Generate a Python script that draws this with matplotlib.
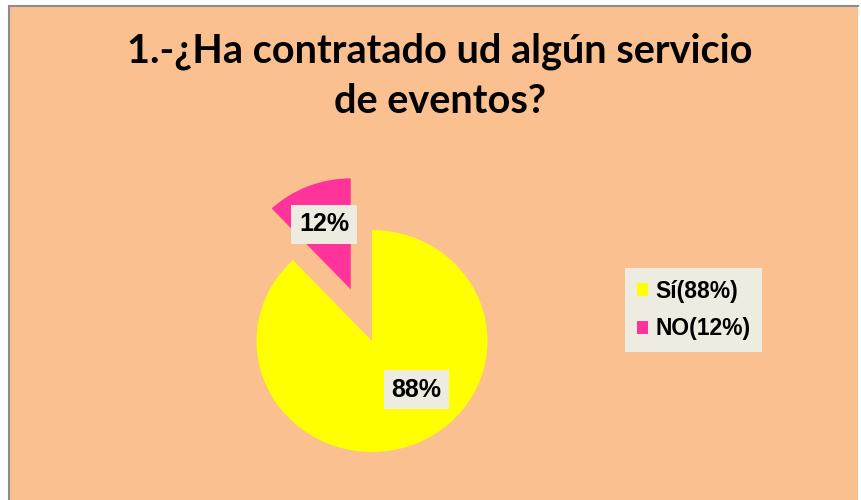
import matplotlib
matplotlib.use("Agg")
import matplotlib.pyplot as plt
from matplotlib.patches import Rectangle, Patch
from matplotlib.lines import Line2D

# Data
categories = ["Sí(88%)", "NO(12%)"]
values = [88, 12]
pct_labels = ["88%", "12%"]
title_lines = ["1.-¿Ha contratado ud algún servicio", "de eventos?"]

colors = ["#FFFF00", "#FF3399"]
bg = "#FAC090"
box = "#EEECE1"

W, H = 861, 500
fig = plt.figure(figsize=(W / 100, H / 100), dpi=100)
fig.patch.set_facecolor("white")

# chart area background
fig.patches.append(Rectangle((9 / W, 0), (858 - 9) / W, 1 - 6 / H,
                             transform=fig.transFigure, facecolor=bg,
                             edgecolor="none", zorder=-2))
fig.lines.append(Line2D([9 / W, 9 / W], [0, 1 - 6 / H], transform=fig.transFigure,
                        color="#8C8C8C", lw=1.5, zorder=-1))
fig.lines.append(Line2D([9 / W, 858 / W], [1 - 6 / H, 1 - 6 / H], transform=fig.transFigure,
                        color="#8C8C8C", lw=1.5, zorder=-1))

# title
tfont = dict(family=["Lato", "DejaVu Sans"], fontweight="bold", fontsize=28.5,
             color="black", ha="center", va="baseline")
fig.text(439.5 / W, 1 - 63 / H, title_lines[0], **tfont)
fig.text(439.5 / W, 1 - 113 / H, title_lines[1], **tfont)

# pie axes: center (372, 341) px, 1 unit = 115.5 px in x, 111 px in y
cx, cy = 372, 341
ux, uy = 115.5, 111
xr, yr = 1.6, 1.6
aw, ah = 2 * xr * ux, 2 * yr * uy
ax = fig.add_axes([(cx - aw / 2) / W, (H - cy - ah / 2) / H, aw / W, ah / H])
ax.set_zorder(1)
ax.set_facecolor("none")
wedges, texts, autotexts = ax.pie(
    values, colors=colors, startangle=90, counterclock=False,
    explode=[0, 0.5], autopct=lambda p: f"{p:.0f}%", pctdistance=0.63,
    wedgeprops=dict(linewidth=0),
    textprops=dict(family=["Liberation Sans", "DejaVu Sans"], fontweight="bold",
                   fontsize=18, color="black"))
ax.set_aspect("auto")
ax.set_xlim(-xr, xr)
ax.set_ylim(-yr, yr)
ax.axis("off")
for t, lab in zip(autotexts, pct_labels):
    t.set_text(lab)
    t.set_bbox(dict(boxstyle="square,pad=0.3", facecolor=box, edgecolor="none"))
autotexts[0].set_position((0.381, -0.441))

# legend
handles = [Patch(facecolor=c, edgecolor="none") for c in colors]
leg = fig.legend(handles, categories, loc="center", bbox_to_anchor=(693.5 / W, 1 - 310 / H),
                 frameon=True, fancybox=False, facecolor=box, edgecolor="none",
                 framealpha=1, handlelength=0.5, handleheight=0.5, handletextpad=0.3,
                 labelspacing=0.65, borderpad=0.5,
                 prop=dict(family=["Liberation Sans", "DejaVu Sans"], weight="bold", size=16.5))
leg.set_zorder(2)

fig.savefig("out.png", dpi=100, facecolor=fig.get_facecolor())
